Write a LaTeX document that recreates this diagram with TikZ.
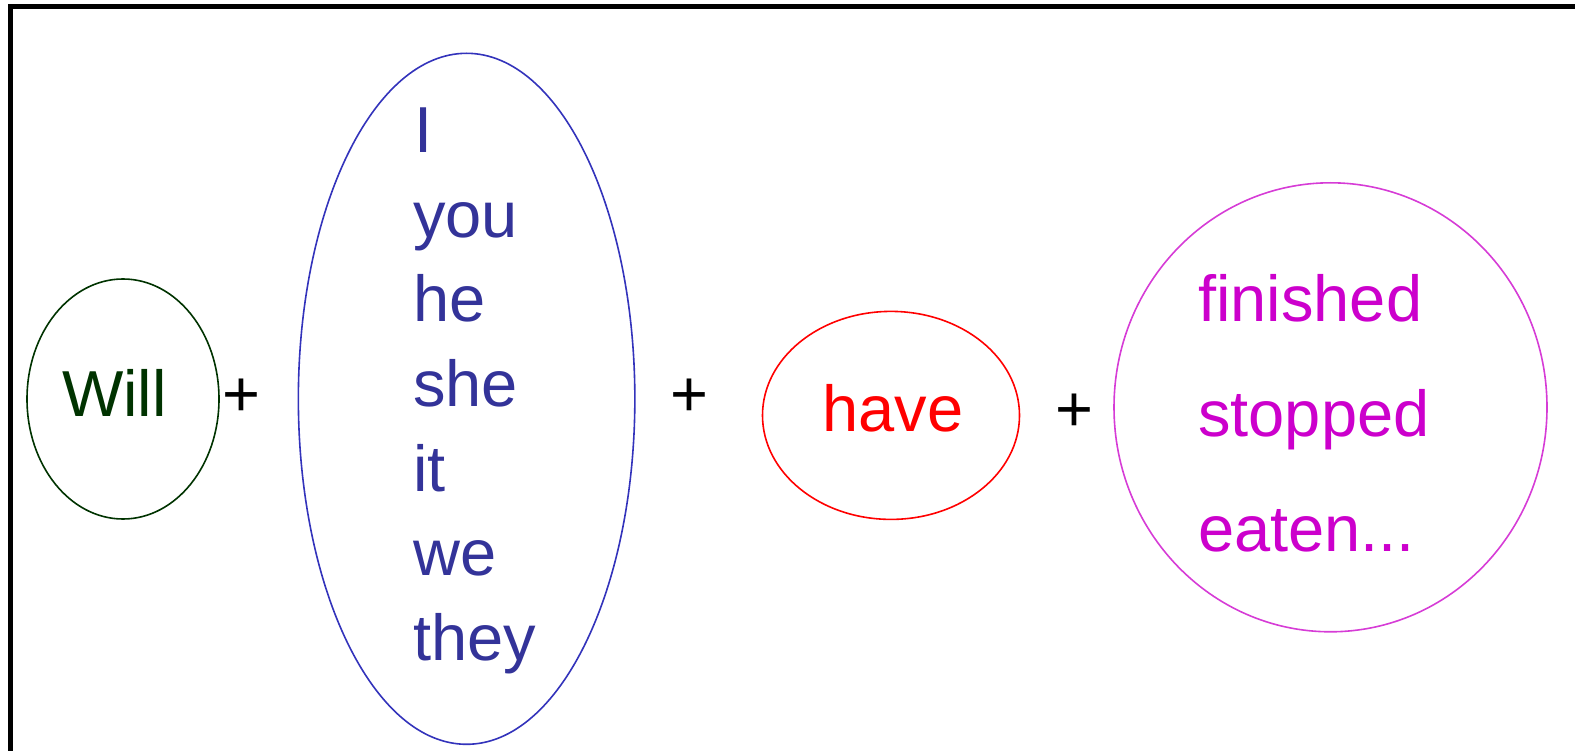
\documentclass[tikz,border=0pt]{standalone}
\usepackage{fontspec}
\setmainfont{Liberation Sans}
\usetikzlibrary{shapes.geometric}
\definecolor{willgreen}{HTML}{003300}
\definecolor{pronblue}{HTML}{333399}
\definecolor{pronedge}{HTML}{3333BB}
\definecolor{partmag}{HTML}{CC00CC}
\definecolor{partedge}{HTML}{D63CD6}
\begin{document}
\begin{tikzpicture}[x=1pt,y=-1pt,
  bubble/.style={ellipse,draw,line width=1.6pt,inner sep=0pt},
  word/.style={anchor=base west,inner sep=0pt,font=\fontsize{65}{65}\selectfont},
  plus/.style={anchor=base,inner sep=0pt,font=\fontsize{65}{65}\selectfont,text=black},
  frame/.style={line width=5pt,black}]
\useasboundingbox (0,0) rectangle (1575,751);
% frame
\coordinate (tl) at (10.5,6.5);
\coordinate (tr) at (1575,6.5);
\coordinate (bl) at (10.5,751);
\draw[frame] (bl) -- (tl) -- (tr);
% bubbles
\node[bubble,draw=willgreen,minimum width=192pt,minimum height=240pt] (willE) at (123,399) {};
\node[bubble,draw=pronedge,minimum width=336.5pt,minimum height=691pt] (pronE) at (466.6,398.8) {};
\node[bubble,draw=red,minimum width=257pt,minimum height=208pt] (haveE) at (891,415.4) {};
\node[bubble,draw=partedge,minimum width=433pt,minimum height=449pt] (partE) at (1330.5,407.3) {};
% words
\node[word,text=willgreen] (will) at (62,417) {Will};
\node[word,text=pronblue] (pI) at (414,153) {I};
\node[word,text=pronblue] (pyou) at (413,237.5) {you};
\node[word,text=pronblue] (phe) at (413,322) {he};
\node[word,text=pronblue] (pshe) at (413,406.5) {she};
\node[word,text=pronblue] (pit) at (413,491) {it};
\node[word,text=pronblue] (pwe) at (413,575.5) {we};
\node[word,text=pronblue] (pthey) at (413,660) {they};
\node[word,text=red] (have) at (822.5,431.5) {have};
\node[word,text=partmag] (fin) at (1198,321.5) {finished};
\node[word,text=partmag] (stop) at (1198,436.5) {stopped};
\node[word,text=partmag] (eat) at (1198,551.5) {eaten...};
% plus signs
\node[plus] (plus1) at (241,416) {+};
\node[plus] (plus2) at (689,416) {+};
\node[plus] (plus3) at (1074,431) {+};
\end{tikzpicture}
\end{document}
